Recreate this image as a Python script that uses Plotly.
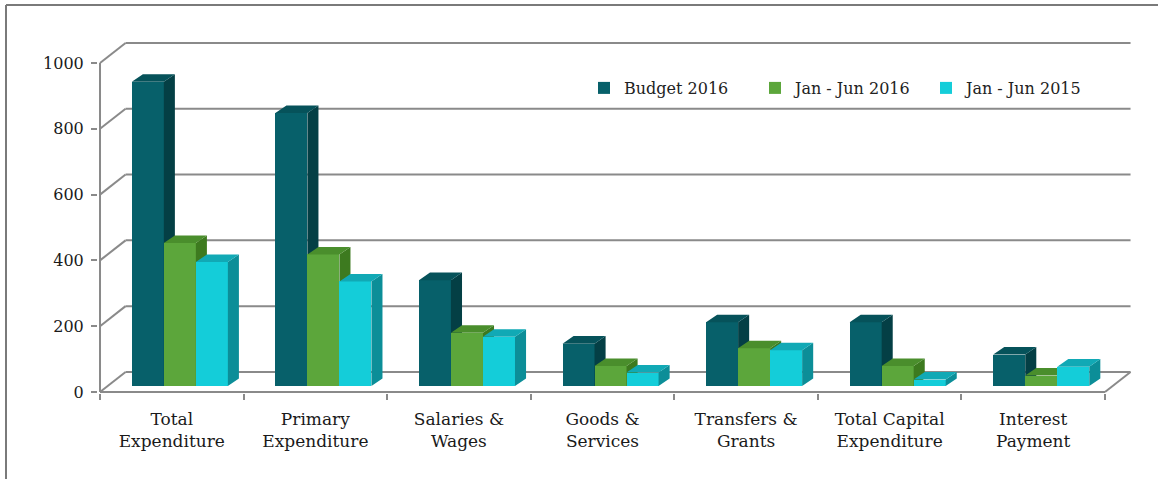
import plotly.graph_objects as go

# ---- data ----
categories = ["Total<br>Expenditure", "Primary<br>Expenditure", "Salaries &<br>Wages",
              "Goods &<br>Services", "Transfers &<br>Grants", "Total Capital<br>Expenditure",
              "Interest<br>Payment"]
budget_2016 = [925, 830, 322, 129, 194, 194, 96]
jan_jun_2016 = [435, 400, 162, 61, 115, 61, 32]
jan_jun_2015 = [377, 318, 150, 41, 109, 20, 59]
series_names = ["Budget 2016", "Jan - Jun 2016", "Jan - Jun 2015"]
y_ticks = [0, 200, 400, 600, 800, 1000]

# ---- layout constants ----
W, H = 1158, 479
L, R, T, B = 98, 22, 38, 86
X_RANGE = [-0.514, 6.716]
Y_RANGE = [-21, 1058]
FRONT = -18      # offset of the front plane (axis) in bar units
BACK = 43        # offset of the back wall in bar units
WALL_DX = 0.178  # horizontal depth of the wall in x units
BW = 0.223       # bar width
SHIFT = 0.056    # group shift due to depth
DX, DY = 0.077, 23  # bar depth projection
GRID = "#8a8a8a"
FONT = "DejaVu Serif"

styles = [
    ("#07606A", "#043F45", "#06525A"),
    ("#5CA63B", "#3D7A1F", "#4A8E2C"),
    ("#14CDD9", "#0C8E98", "#11A9B5"),
]
values = [budget_2016, jan_jun_2016, jan_jun_2015]

fig = go.Figure()
n = len(categories)
for k, (name, vals, (cf, cs, ct)) in enumerate(zip(series_names, values, styles)):
    xa = "x" if k == 0 else f"x{k+1}"
    ya = "y" if k == 0 else f"y{k+1}"
    x0s = [i + SHIFT - 1.5 * BW + k * BW for i in range(n)]
    fig.add_trace(go.Bar(x=[x + BW / 2 for x in x0s], y=vals, width=BW, name=name,
                         marker=dict(color=cf, line=dict(width=0)),
                         xaxis=xa, yaxis=ya))
    sx, sy, tx, ty = [], [], [], []
    for x0, v in zip(x0s, vals):
        x1 = x0 + BW
        sx += [x1, x1, x1 + DX, x1 + DX, x1, None]
        sy += [0, v, v + DY, DY, 0, None]
        tx += [x0, x1, x1 + DX, x0 + DX, x0, None]
        ty += [v, v, v + DY, v + DY, v, None]
    fig.add_trace(go.Scatter(x=sx, y=sy, fill="toself", fillcolor=cs, mode="none",
                             showlegend=False, hoverinfo="skip", xaxis=xa, yaxis=ya))
    fig.add_trace(go.Scatter(x=tx, y=ty, fill="toself", fillcolor=ct, mode="none",
                             showlegend=False, hoverinfo="skip", xaxis=xa, yaxis=ya))

shapes = []
x_front0, x_front1 = -0.5, n - 0.5
for v in y_ticks:
    # back wall gridline
    shapes.append(dict(type="line", xref="x", yref="y", layer="below",
                       x0=x_front0 + WALL_DX, x1=x_front1 + WALL_DX, y0=v + BACK, y1=v + BACK,
                       line=dict(color=GRID, width=2)))
    # side wall connector
    shapes.append(dict(type="line", xref="x", yref="y", layer="below",
                       x0=x_front0, x1=x_front0 + WALL_DX, y0=v + FRONT, y1=v + BACK,
                       line=dict(color=GRID, width=2)))
# front axes
shapes.append(dict(type="line", xref="x", yref="y", layer="below",
                   x0=x_front0, x1=x_front0, y0=FRONT, y1=y_ticks[-1] + FRONT,
                   line=dict(color=GRID, width=2)))
shapes.append(dict(type="line", xref="x", yref="y", layer="below",
                   x0=x_front0, x1=x_front1, y0=FRONT, y1=FRONT,
                   line=dict(color=GRID, width=2)))
shapes.append(dict(type="line", xref="x", yref="y", layer="below",
                   x0=x_front1, x1=x_front1 + WALL_DX, y0=FRONT, y1=BACK,
                   line=dict(color=GRID, width=2)))

pw, ph = W - L - R, H - T - B
def px(xp):
    return (xp - L) / pw
def py(yp):
    return (H - B - yp) / ph

# outer frame
shapes.append(dict(type="line", xref="paper", yref="paper", x0=px(6), x1=px(6), y0=py(5), y1=py(482),
                   line=dict(color="#7a7a7a", width=2)))
shapes.append(dict(type="line", xref="paper", yref="paper", x0=px(6), x1=px(1160), y0=py(5), y1=py(5),
                   line=dict(color="#7a7a7a", width=2)))

layout_axes = {}
for k in (2, 3):
    layout_axes[f"xaxis{k}"] = dict(overlaying="x", matches="x", visible=False, anchor=f"y{k}")
    layout_axes[f"yaxis{k}"] = dict(overlaying="y", matches="y", visible=False, anchor=f"x{k}")

fig.update_layout(
    width=W, height=H,
    margin=dict(l=L, r=R, t=T, b=B),
    paper_bgcolor="white", plot_bgcolor="rgba(0,0,0,0)",
    showlegend=True,
    legend=dict(orientation="h", x=px(584), y=py(88), xanchor="left", yanchor="middle",
                font=dict(family=FONT, size=16, color="#222222"), bgcolor="rgba(0,0,0,0)",
                traceorder="normal", entrywidth=126, entrywidthmode="pixels"),
    xaxis=dict(range=X_RANGE, tickvals=list(range(n)), ticktext=categories,
               showgrid=False, zeroline=False, showline=False, ticks="",
               ticklabelstandoff=14,
               tickfont=dict(family=FONT, size=17, color="#1a1a1a"),
               minor=dict(tickvals=[i - 0.5 for i in range(n + 1)], ticks="outside",
                          ticklen=6, tickwidth=1.5, tickcolor=GRID, showgrid=False)),
    yaxis=dict(range=Y_RANGE, tickvals=[v + FRONT for v in y_ticks], ticktext=[str(v) for v in y_ticks],
               showgrid=False, zeroline=False, showline=False, ticks="outside", ticklen=6,
               tickwidth=1.5, tickcolor=GRID, ticklabelstandoff=4,
               tickfont=dict(family=FONT, size=16, color="#1a1a1a")),
    shapes=shapes,
    bargap=0, barmode="overlay",
    **layout_axes,
)

fig.write_html("out.html", config={"displayModeBar": False},
               post_script="document.body.style.margin='0';")
